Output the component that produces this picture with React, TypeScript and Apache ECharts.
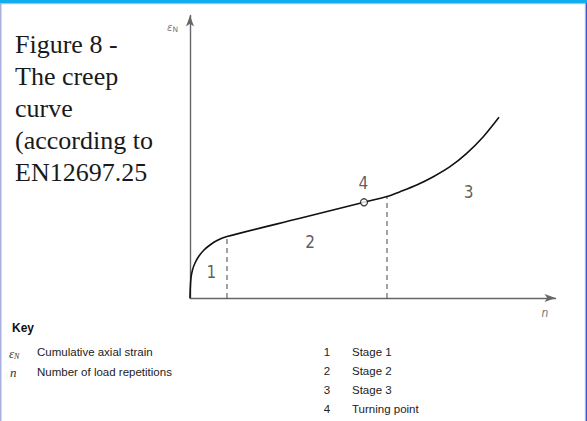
import React, { useEffect, useRef } from "react";
import * as echarts from "echarts";

// Creep curve (normalised units 0-100 on both axes)
const curveN = [0, 0.08, 0.27, 0.68, 1.37, 2.46, 3.83, 5.47, 7.39, 10.12, 30.1, 47.61, 53.9, 57.46, 62.02, 66.57, 71.14, 75.7, 80.25, 84.54];
const curveStrain = [0, 3.54, 7.08, 9.91, 12.39, 14.87, 16.99, 18.76, 20.35, 21.77, 28.21, 33.88, 35.93, 37.63, 40.0, 42.94, 46.48, 51.22, 57.1, 63.96];

// Stage boundaries (dashed verticals)
const boundaryN = [10.12, 53.9];
const boundaryStrain = [21.77, 35.93];

// Turning point
const turningPoint = [47.61, 33.88];

// Stage annotation labels
const stageLabels = ["1", "2", "3", "4"];
const stageLabelN = [5.83, 32.83, 76.25, 47.41];
const stageLabelStrain = [9.03, 19.93, 37.63, 40.6];

// Title and key texts
const titleLines = ["Figure 8 -", "The creep", "curve", "(according to", "EN12697.25"];
const keySymbols = ["εN", "n"];
const keyDescriptions = ["Cumulative axial strain", "Number of load repetitions"];
const keyNumbers = ["1", "2", "3", "4"];
const keyStages = ["Stage 1", "Stage 2", "Stage 3", "Turning point"];

export default function App() {
  const ref = useRef<HTMLDivElement>(null);
  useEffect(() => {
    document.body.style.margin = "0";
    const chart = echarts.init(ref.current!, null, { renderer: "svg" });
    const techFont = "'DejaVu Sans Condensed', 'DejaVu Sans', sans-serif";
    const keyFont = "Liberation Sans";
    const serif = "Liberation Serif";

    const curveData = curveN.map((x, i) => [x, curveStrain[i]]);
    const dashedSeries = boundaryN.map((x, i) => ({
      type: "line",
      data: [[x, 0], [x, boundaryStrain[i]]],
      symbol: "none",
      lineStyle: { color: "#444", width: 1, type: [5, 4] },
      silent: true,
      z: 2,
    }));

    const graphics: any[] = [
      { type: "rect", shape: { x: 0, y: 0, width: 587, height: 3 }, style: { fill: "#12adef" }, silent: true },
      { type: "rect", shape: { x: 0, y: 3, width: 587, height: 1.2 }, style: { fill: "#b4bce8" }, silent: true },
      { type: "rect", shape: { x: 0, y: 3, width: 1.5, height: 418 }, style: { fill: "#a8b0e0" }, silent: true },
      { type: "rect", shape: { x: 584.8, y: 3, width: 1, height: 418 }, style: { fill: "#b8c0ea" }, silent: true },
      { type: "rect", shape: { x: 585.8, y: 3, width: 1.2, height: 418 }, style: { fill: "#3e56c6" }, silent: true },
      ...titleLines.map((t, i) => ({
        type: "text",
        x: 15,
        y: 57 + i * 32.1,
        style: {
          text: t,
          fontFamily: serif,
          fontSize: 26,
          fill: "#1a1a1a",
          verticalAlign: "bottom",
        },
      })),
      // axis names
      {
        type: "text",
        x: 167,
        y: 27,
        style: {
          text: "{e|ε}{s|N}",
          verticalAlign: "middle",
          rich: {
            e: { fontSize: 10, fontStyle: "italic", fontFamily: "DejaVu Sans", fill: "#777" },
            s: { fontSize: 7.5, fontFamily: "DejaVu Sans", fill: "#777", padding: [5, 0, 0, 0] },
          },
        },
      },
      {
        type: "text",
        x: 545,
        y: 313,
        style: { text: "n", fontFamily: techFont, fontStyle: "italic", fontSize: 12, fill: "#777", align: "center", verticalAlign: "middle" },
      },
      // Key
      {
        type: "text",
        x: 12,
        y: 328,
        style: { text: "Key", fontFamily: keyFont, fontWeight: "bold", fontSize: 12, fill: "#111", verticalAlign: "middle" },
      },
      {
        type: "text",
        x: 9,
        y: 353,
        style: {
          text: "{e|ε}{s|N}",
          verticalAlign: "middle",
          rich: {
            e: { fontSize: 13, fontStyle: "italic", fontFamily: serif, fill: "#333" },
            s: { fontSize: 8, fontStyle: "italic", fontFamily: serif, fill: "#333", padding: [6, 0, 0, 0] },
          },
        },
      },
      {
        type: "text",
        x: 10,
        y: 372,
        style: { text: keySymbols[1], fontFamily: serif, fontStyle: "italic", fontSize: 13, fill: "#333", verticalAlign: "middle" },
      },
      ...keyDescriptions.map((t, i) => ({
        type: "text",
        x: 37,
        y: 352 + i * 19.5,
        style: { text: t, fontFamily: keyFont, fontSize: 11.5, fill: "#222", verticalAlign: "middle" },
      })),
      ...keyNumbers.map((t, i) => ({
        type: "text",
        x: 327,
        y: 352 + i * 19.1,
        style: { text: t, fontFamily: keyFont, fontSize: 11.5, fill: "#222", align: "center", verticalAlign: "middle" },
      })),
      ...keyStages.map((t, i) => ({
        type: "text",
        x: 352,
        y: 352 + i * 19.1,
        style: { text: t, fontFamily: keyFont, fontSize: 11.5, fill: "#222", verticalAlign: "middle" },
      })),
    ];

    chart.setOption({
      animation: false,
      backgroundColor: "#ffffff",
      grid: { left: 190, right: 31.5, top: 15.5, bottom: 123 },
      xAxis: {
        type: "value",
        min: 0,
        max: 100,
        axisLine: { show: true, symbol: ["none", "arrow"], symbolSize: [6, 11], lineStyle: { color: "#666", width: 1.4 } },
        axisTick: { show: false },
        axisLabel: { show: false },
        splitLine: { show: false },
      },
      yAxis: {
        type: "value",
        min: 0,
        max: 100,
        axisLine: { show: true, symbol: ["none", "arrow"], symbolSize: [6, 11], lineStyle: { color: "#666", width: 1.4 } },
        axisTick: { show: false },
        axisLabel: { show: false },
        splitLine: { show: false },
      },
      series: [
        ...dashedSeries,
        {
          type: "line",
          data: curveData,
          symbol: "none",
          smooth: 0.3,
          lineStyle: { color: "#111", width: 1.6 },
          z: 3,
        },
        {
          type: "scatter",
          data: [turningPoint],
          symbol: "circle",
          symbolSize: 7,
          itemStyle: { color: "#fff", borderColor: "#111", borderWidth: 1.3 },
          z: 5,
        },
        {
          type: "scatter",
          data: stageLabels.map((l, i) => ({ name: l, value: [stageLabelN[i], stageLabelStrain[i]] })),
          symbol: "circle",
          symbolSize: 1,
          itemStyle: { color: "rgba(0,0,0,0)" },
          label: {
            show: true,
            position: "inside",
            formatter: (p: any) => p.name,
            fontFamily: techFont,
            fontSize: 17,
            color: "#333",
          },
          z: 6,
        },
      ],
      graphic: graphics,
    });
    return () => chart.dispose();
  }, []);
  return <div ref={ref} style={{ width: 587, height: 421 }} />;
}
